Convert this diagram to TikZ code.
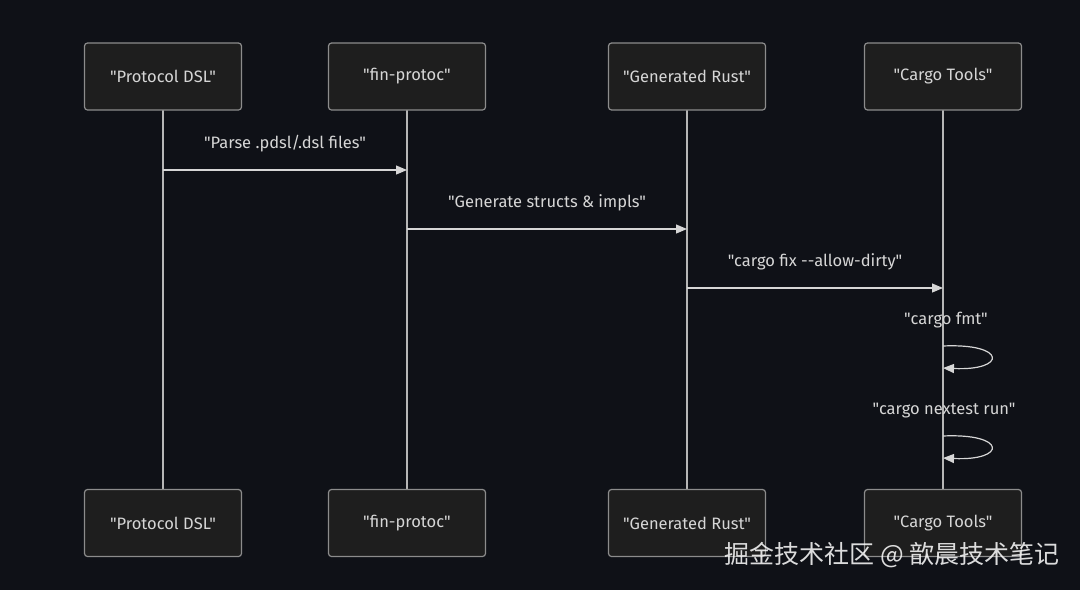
\documentclass[tikz,border=0pt]{standalone}
\usepackage{fontspec}
\setmainfont{Fira Sans}[Ligatures=TeXOff]
\newfontfamily\cjkfont{Noto Sans CJK SC}
\usetikzlibrary{arrows.meta,positioning}
\definecolor{bgdark}{HTML}{0F1117}
\definecolor{boxfill}{HTML}{1E1E1E}
\definecolor{boxline}{HTML}{8C8C8C}
\definecolor{inkl}{HTML}{D6D6D6}

\begin{document}
\begin{tikzpicture}[
		x=1pt, y=-1pt,
		>={Triangle[length=11pt,width=9pt]},
		actor/.style={draw=boxline, fill=boxfill, rounded corners=3pt, line width=1.2pt,
			minimum width=157pt, minimum height=67pt, text=inkl,
			font=\fontsize{16.5}{19}\selectfont},
		life/.style={draw=inkl!85!black, line width=1.2pt},
		msg/.style={draw=inkl, line width=1.2pt, ->},
		msglabel/.style={text=inkl, font=\fontsize{16.5}{19}\selectfont}
	]
		% background and page size
		\fill[bgdark] (0,0) rectangle (1080,590);
		\useasboundingbox (0,0) rectangle (1080,590);

		\def\xP{163}
		\def\xF{407}
		\def\xG{687}
		\def\xC{943}

		% Lifelines first, boxes drawn over them
		\draw[life] (\xP,110) -- (\xP,489);
		\draw[life] (\xF,110) -- (\xF,489);
		\draw[life] (\xG,110) -- (\xG,489);
		\draw[life] (\xC,110) -- (\xC,489);

		% Participants, top row
		\node[actor] (dslTop)   at (\xP,76.5) {"Protocol DSL"};
		\node[actor] (protTop)  at (\xF,76.5) {"fin-protoc"};
		\node[actor] (rustTop)  at (\xG,76.5) {"Generated Rust"};
		\node[actor] (cargoTop) at (\xC,76.5) {"Cargo Tools"};

		% Participants, bottom row
		\node[actor] (dslBot)   at (\xP,523) {"Protocol DSL"};
		\node[actor] (protBot)  at (\xF,523) {"fin-protoc"};
		\node[actor] (rustBot)  at (\xG,523) {"Generated Rust"};
		\node[actor] (cargoBot) at (\xC,523) {"Cargo Tools"};

		% Message ends on the lifelines
		\coordinate (dslA)    at (\xP,170);
		\coordinate (protA)   at (\xF,170);
		\coordinate (protB)   at (\xF,229);
		\coordinate (rustB)   at (\xG,229);
		\coordinate (rustC)   at (\xG,288);
		\coordinate (cargoC)  at (\xC,288);
		\coordinate (fmtOut)  at (\xC,346);
		\coordinate (fmtIn)   at (\xC,368);
		\coordinate (testOut) at (\xC,436);
		\coordinate (testIn)  at (\xC,458);

		% Messages
		\draw[msg] (dslA) -- node[msglabel, midway, yshift=26.5pt] {"Parse .pdsl/.dsl files"} (protA);
		\draw[msg] (protB) -- node[msglabel, midway, yshift=26.5pt] {"Generate structs \& impls"} (rustB);
		\draw[msg] (rustC) -- node[msglabel, midway, yshift=26.5pt] {"cargo fix --allow-dirty"} (cargoC);

		% Self calls on Cargo Tools
		\node[msglabel] (fmtLabel) at (946,320.5) {"cargo fmt"};
		\draw[msg] (fmtOut) .. controls (1007,343) and (1007,371) .. (fmtIn);
		\node[msglabel] (testLabel) at (944,410.5) {"cargo nextest run"};
		\draw[msg] (testOut) .. controls (1007,433) and (1007,461) .. (testIn);

		% Watermark
		\node[text=white, opacity=0.85, font=\cjkfont\fontsize{25}{28}\selectfont] (mark) at (892,555) {掘金技术社区 @ 歆晨技术笔记};
	\end{tikzpicture}
\end{document}
